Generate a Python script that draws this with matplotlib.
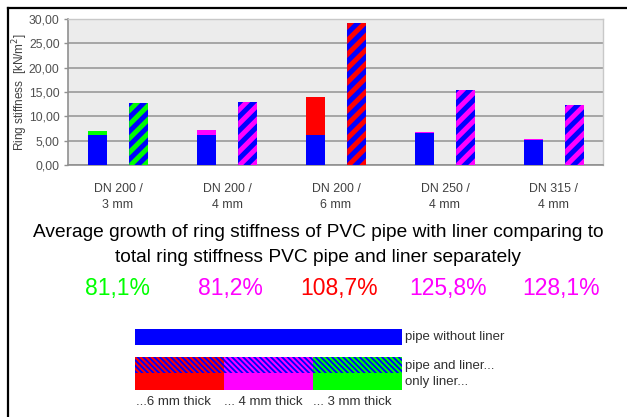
import matplotlib as mpl
import matplotlib.pyplot as plt
from matplotlib.patches import Rectangle
from matplotlib.lines import Line2D
import numpy as np

plt.rcParams['font.family'] = ['Liberation Sans', 'DejaVu Sans']

# Ring stiffness [kN/m2] per pipe / liner combination
groups = ['DN 200 /\n3 mm', 'DN 200 /\n4 mm', 'DN 200 /\n6 mm', 'DN 250 /\n4 mm', 'DN 315 /\n4 mm']
pipe_only = [6.1, 6.1, 6.1, 6.5, 5.1]
liner_only = [0.9, 1.0, 7.9, 0.3, 0.3]
pipe_and_liner = [12.68, 12.87, 29.22, 15.35, 12.32]
liner_colors = ['#00ff00', '#ff00ff', '#ff0000', '#ff00ff', '#ff00ff']
growth = ['81,1%', '81,2%', '108,7%', '125,8%', '128,1%']

blue = '#0000ff'
W, H = 627, 417
ax_w, ax_h = 535, 146
xlim = (-0.459, 4.45)
ylim = (0, 30)

fig = plt.figure(figsize=(W / 100, H / 100), dpi=100)
fig.patch.set_facecolor('white')

ax = fig.add_axes([68 / W, 1 - 165 / H, ax_w / W, ax_h / H])
ax.set_facecolor('#ececec')
x = np.arange(len(groups))
bw = 0.175
off = 0.19

ax.bar(x - off, pipe_only, bw, color=blue, zorder=3)
ax.bar(x - off, liner_only, bw, bottom=pipe_only, color=liner_colors, zorder=3)
combo = ax.bar(x + off, pipe_and_liner, bw, color=blue, linewidth=0, zorder=3)

# diagonal stripes on the pipe+liner bars, built in pixel units so they run at 45 deg
sx = (xlim[1] - xlim[0]) / ax_w
sy = (ylim[1] - ylim[0]) / ax_h
period = 14.0
for bar, c in zip(combo, liner_colors):
    xl = bar.get_x()
    w_px = bar.get_width() / sx
    top_px = bar.get_height() / sy
    cc = -w_px - period
    while cc < top_px + period:
        px = [0, w_px, w_px, 0]
        py = [cc, cc + w_px, cc + w_px + period / 2, cc + period / 2]
        poly = ax.fill([xl + p * sx for p in px], [p * sy for p in py],
                       color=c, linewidth=0, zorder=4)[0]
        poly.set_clip_path(bar)
        cc += period

ax.set_xlim(*xlim)
ax.set_ylim(*ylim)
ax.set_yticks(np.arange(0, 31, 5))
ax.set_yticklabels([f'{v:.2f}'.replace('.', ',') for v in np.arange(0, 31, 5)])
ax.set_xticks(x)
ax.set_xticklabels(groups, linespacing=1.45)
ax.tick_params(axis='y', labelsize=8.7, colors='#505050', length=3, width=1,
               color='#909090', pad=3)
ax.tick_params(axis='x', labelsize=8.9, colors='#404040', length=0, pad=13)
ax.yaxis.grid(True, color='#a0a0a0', linewidth=1.3, zorder=0)
ax.set_axisbelow(True)
for side in ['left', 'bottom']:
    ax.spines[side].set_color('#909090')
    ax.spines[side].set_linewidth(1.2)
for side in ['top', 'right']:
    ax.spines[side].set_color('#c8c8c8')
    ax.spines[side].set_linewidth(1.0)
ax.set_ylabel('Ring stiffness  [kN/m$^2$]', fontsize=8.5, color='#404040',
              va='center')
ax.yaxis.set_label_coords(-0.09, 0.5)

# Text and legend drawn on a full-figure overlay in pixel units
ov = fig.add_axes([0, 0, 1, 1], zorder=-1)
ov.set_xlim(0, W)
ov.set_ylim(H, 0)
ov.axis('off')

ov.text(318, 232, 'Average growth of ring stiffness of PVC pipe with liner comparing to',
        ha='center', va='center', fontsize=13.8, color='black')
ov.text(318, 258, 'total ring stiffness PVC pipe and liner separately',
        ha='center', va='center', fontsize=13.8, color='black')
centers = [118, 230, 339, 448, 561]
for cx, g, c in zip(centers, growth, liner_colors):
    ov.text(cx, 288, g, ha='center', va='center', fontsize=16.5, color=c)

ov.add_patch(Rectangle((135, 329), 267, 16, facecolor=blue, linewidth=0))
leg_colors = ['#ff0000', '#ff00ff', '#00ff00']
with mpl.rc_context({'hatch.linewidth': 1.5}):
    for i, c in enumerate(leg_colors):
        x0 = 135 + i * 89
        p = Rectangle((x0, 357), 89, 16, facecolor=blue, edgecolor=c,
                      hatch='\\' * 6, linewidth=0)
        if hasattr(p, 'set_hatch_linewidth'):
            p.set_hatch_linewidth(1.5)
        ov.add_patch(p)
        ov.add_patch(Rectangle((x0, 373), 89, 17, facecolor=c, linewidth=0))
ov.text(405, 337, 'pipe without liner', va='center', fontsize=9.5, color='#303030')
ov.text(405, 366, 'pipe and liner...', va='center', fontsize=9.5, color='#303030')
ov.text(405, 382, 'only liner...', va='center', fontsize=9.5, color='#303030')
for tx, t in zip([136, 224, 313], ['...6 mm thick', '... 4 mm thick', '... 3 mm thick']):
    ov.text(tx, 402, t, va='center', fontsize=9.5, color='#303030')

# black frame lines along top and left edges
fig.add_artist(Line2D([8 / W, 1], [1 - 8 / H, 1 - 8 / H], color='black', linewidth=1.6,
                      transform=fig.transFigure))
fig.add_artist(Line2D([8 / W, 8 / W], [0, 1 - 8 / H], color='black', linewidth=1.6,
                      transform=fig.transFigure))

fig.savefig('out.png', dpi=100)
